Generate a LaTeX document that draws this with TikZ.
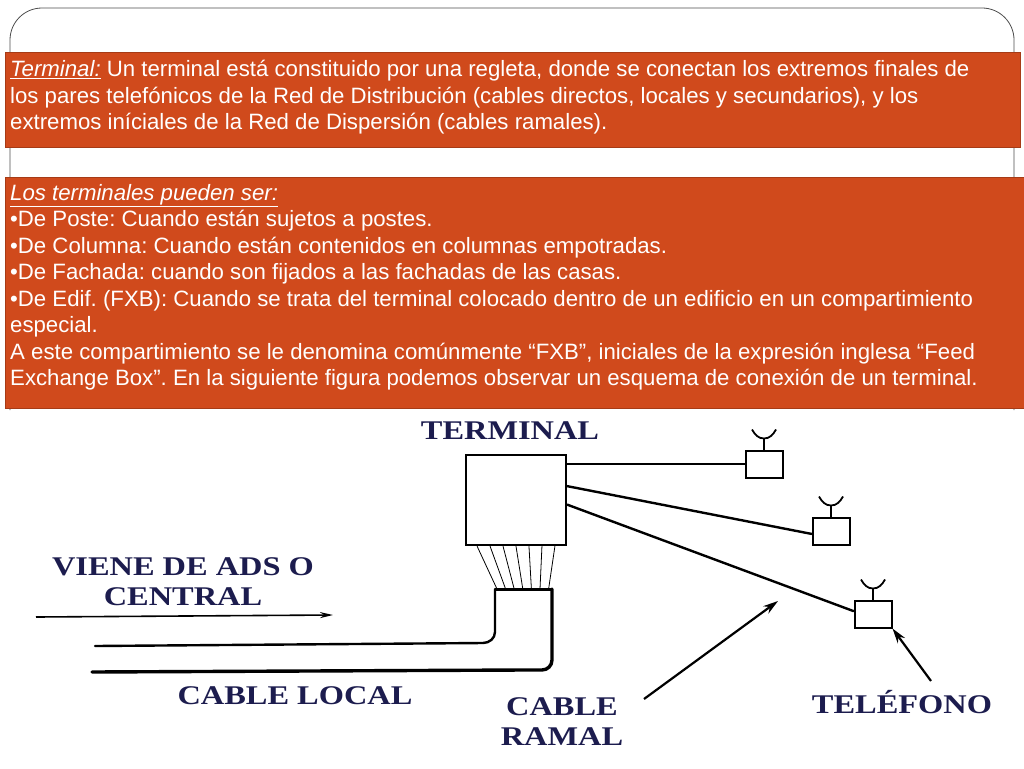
\documentclass[tikz,border=0pt]{standalone}
\usepackage{fontspec}
\setmainfont{Liberation Sans}
\newfontfamily\labelfont{Liberation Serif}
\usetikzlibrary{arrows.meta,calc}
\definecolor{boxorange}{HTML}{D04A1C}
\definecolor{inkblue}{HTML}{1C1C4E}
\tikzset{
  infobox/.style={fill=boxorange, draw=boxorange!80!black, inner sep=0pt},
  infotext/.style={anchor=north west, text=white, align=left, inner sep=0pt,
    font=\frenchspacing\fontsize{22.2}{26.5}\selectfont},
  tag/.style={text=inkblue, inner sep=0pt, align=center, font=\labelfont\bfseries\fontsize{27}{30}\selectfont, xscale=1.2},
  wire/.style={line width=2.4pt, line cap=round},
  phonebox/.style={draw, line width=2pt, minimum width=37pt, minimum height=27pt, inner sep=0pt},
  pointer/.style={line width=2.2pt, -{Stealth[length=15pt,width=9pt]}}
}
\begin{document}
\begin{tikzpicture}[x=1pt,y=-1pt]
\useasboundingbox (0,0) rectangle (1024,768);
% panel
\draw[line width=0.8pt, black!70] (10,410) -- (10,40) arc (180:270:32) -- (982,8) arc (270:360:32) -- (1014,410);
% text boxes
\fill[infobox] (5,52) rectangle (1020,147);
\node[infotext] (def) at (10,60) {\emph{\underline{Terminal:}} Un terminal está constituido por una regleta, donde se conectan los extremos finales de\\los pares telefónicos de la Red de Distribución (cables directos, locales y secundarios), y los\\extremos iníciales de la Red de Dispersión (cables ramales).};
\fill[infobox] (5,177) rectangle (1024,408);
\node[infotext] (kinds) at (10,184) {\emph{\underline{Los terminales pueden ser:}}\\
•De Poste: Cuando están sujetos a postes.\\
•De Columna: Cuando están contenidos en columnas empotradas.\\
•De Fachada: cuando son fijados a las fachadas de las casas.\\
•De Edif. (FXB): Cuando se trata del terminal colocado dentro de un edificio en un compartimiento\\especial.\\
A este compartimiento se le denomina comúnmente “FXB”, iniciales de la expresión inglesa “Feed\\Exchange Box”. En la siguiente figura podemos observar un esquema de conexión de un terminal.};
% terminal box
\node[draw, line width=2.4pt, minimum width=100pt, minimum height=90pt, inner sep=0pt] (term) at (516,500) {};
\node[tag] (termlbl) at (510,431) {TERMINAL};
% fan of pairs
\foreach \i in {0,...,6}
  \draw[line width=0.8pt] ($(term.south west)!{0.12+0.76*\i/6}!(term.south east)$) -- (497+\i*8.6,589);
\draw[line width=3pt] (495,589) -- (552,589);
% cable local
\draw[wire] (495,589) -- (495,632) to[out=-90,in=0] (483,643) -- (95,646);
\draw[wire, line width=3.4pt] (552,589) -- (552,660) to[out=-90,in=0] (542,670) -- (523,670) -- (92,672);
% incoming arrow
\draw[line width=1.6pt, -{Stealth[length=13pt,width=6pt]}] (36,617) -- (333,615);
\node[tag] (fromcentral) at (183,582) {VIENE DE ADS O\\CENTRAL};
\node[tag] (local) at (295,696) {CABLE LOCAL};
% phones
\foreach \n/\px/\py in {one/764/464, two/831/531, three/873/614} {
  \node[phonebox] (\n) at (\px,\py) {};
  \draw[line width=1.8pt] (\n.north) -- ++(0,-11) coordinate (\n top);
  \draw[line width=1.8pt] (\n top) ++(-12,-9) to[out=-60,in=180] (\n top) to[out=0,in=-120] ++(12,-9);
}
\draw[wire] (term.east |- one.west) -- (one.west);
\draw[wire] ($(term.north east)!0.35!(term.south east)$) -- ($(two.south west)!0.4!(two.north west)$);
\draw[wire] ($(term.north east)!0.55!(term.south east)$) -- ($(three.south west)!0.6!(three.north west)$);
% ramal and telefono labels
\node[tag] (ramal) at (562,722) {CABLE\\RAMAL};
\node[tag] (phonelbl) at (902,702) {TELÉFONO};
\coordinate (ramaltip) at (778,601);
\coordinate (ramaltail) at (644,699);
\draw[pointer] (ramaltail) -- (ramaltip);
\coordinate (phonetail) at (931,681);
\draw[pointer] (phonetail) -- (three.south east);
\end{tikzpicture}
\end{document}
